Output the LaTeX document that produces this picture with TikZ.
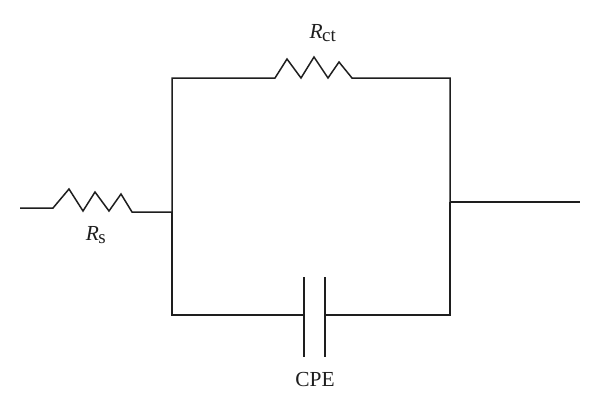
\documentclass[tikz,border=0pt]{standalone}
\usepackage{fontspec}
\setmainfont{Liberation Serif}
\definecolor{ink}{HTML}{1E1E1E}
\tikzset{
  wire/.style={draw=ink,line width=1.5bp,line join=miter},
  lbl/.style={inner sep=0pt,text=ink,font=\fontsize{21.5}{24}\selectfont},
}
\newcommand{\subtxt}[1]{\textsubscript{\kern-0.5pt\fontsize{19}{22}\selectfont #1}}
\begin{document}
\begin{tikzpicture}[x=1bp,y=-1bp]
\useasboundingbox (0,0) rectangle (600,412);
\fill[white] (0,0) rectangle (600,412);
% terminals and junctions
\coordinate (in) at (20,208);
\coordinate (rsa) at (53,208);
\coordinate (rsb) at (132,212);
\coordinate (jl) at (172,212);
\coordinate (tl) at (172,78);
\coordinate (rcta) at (275,78);
\coordinate (rctb) at (352,78);
\coordinate (tr) at (450,78);
\coordinate (jr) at (450,202);
\coordinate (out) at (580,202);
\coordinate (br) at (450,315);
\coordinate (bl) at (172,315);
\coordinate (capl) at (304,315);
\coordinate (capr) at (325,315);
\coordinate (pla) at (304,277);
\coordinate (plb) at (304,357);
\coordinate (pra) at (325,277);
\coordinate (prb) at (325,357);
% wires
\draw[wire] (in) -- (rsa) -- (69,189) -- (83,211) -- (95,192) -- (109,211) -- (121,194) -- (rsb) -- (jl);
\draw[wire] (jl) -- (tl) -- (rcta) -- (287,59) -- (301,78) -- (314,57) -- (328,78) -- (339,62) -- (rctb) -- (tr) -- (jr);
\draw[wire] (jr) -- (out);
\draw[wire] (jr) -- (br) -- (capr);
\draw[wire] (jl) -- (bl) -- (capl);
\draw[wire] (pla) -- (plb);
\draw[wire] (pra) -- (prb);
% labels
\node[lbl] (rs) at (96,235) {\textit{R}\subtxt{s}};
\node[lbl] (rct) at (323,33) {\textit{R}\subtxt{ct}};
\node[lbl] (cpe) at (315,380) {CPE};
\end{tikzpicture}
\end{document}
